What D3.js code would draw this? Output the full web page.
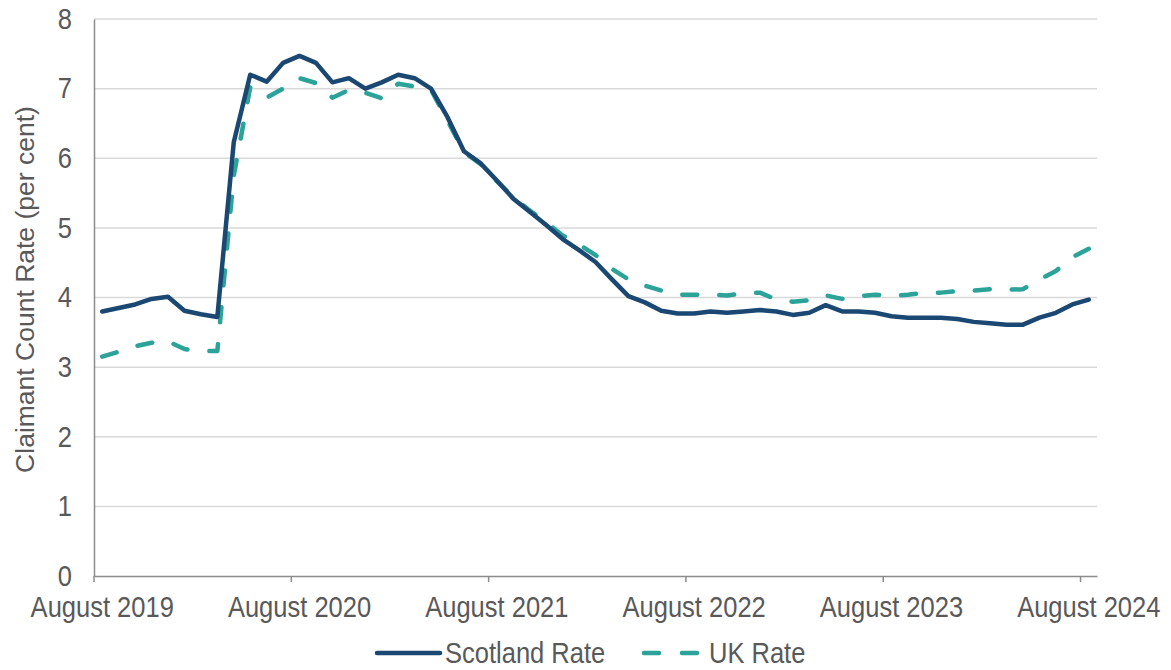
<html>
<head>
<style>
body { margin: 0; background: #fff; }
text { font-family: "Liberation Sans", Arial, sans-serif; fill: #595959; }
.grid line { stroke: #d9d9d9; stroke-width: 1.5; }
.axis path, .axis line { stroke: #8c8c8c; stroke-width: 1.5; }
</style>
</head>
<body>
<div id="vis"></div>
<script src="https://cdn.jsdelivr.net/npm/d3@7"></script>
<script>
// monthly categories, Aug 2019 - Aug 2024
var months = ["2019-08","2019-09","2019-10","2019-11","2019-12",
	"2020-01","2020-02","2020-03","2020-04","2020-05","2020-06","2020-07","2020-08","2020-09","2020-10","2020-11","2020-12",
	"2021-01","2021-02","2021-03","2021-04","2021-05","2021-06","2021-07","2021-08","2021-09","2021-10","2021-11","2021-12",
	"2022-01","2022-02","2022-03","2022-04","2022-05","2022-06","2022-07","2022-08","2022-09","2022-10","2022-11","2022-12",
	"2023-01","2023-02","2023-03","2023-04","2023-05","2023-06","2023-07","2023-08","2023-09","2023-10","2023-11","2023-12",
	"2024-01","2024-02","2024-03","2024-04","2024-05","2024-06","2024-07","2024-08"];

var scotlandRate = [3.80,3.85,3.90,3.98,4.01,
	3.81,3.76,3.72,6.23,7.20,7.10,7.37,7.47,7.37,7.09,7.15,7.00,
	7.09,7.20,7.15,7.00,6.59,6.10,5.93,5.68,5.42,5.23,5.04,4.84,
	4.68,4.51,4.26,4.02,3.93,3.81,3.77,3.77,3.80,3.78,3.80,3.82,
	3.80,3.75,3.78,3.89,3.80,3.80,3.78,3.73,3.71,3.71,3.71,3.69,
	3.65,3.63,3.61,3.61,3.71,3.78,3.90,3.97];

var ukRate = [3.15,3.22,3.30,3.35,3.37,
	3.26,3.23,3.23,5.75,7.02,6.87,7.00,7.15,7.08,6.87,6.98,6.94,
	6.86,7.07,7.03,6.98,6.54,6.09,5.92,5.67,5.44,5.25,5.08,4.89,
	4.76,4.61,4.41,4.26,4.17,4.10,4.04,4.04,4.04,4.03,4.06,4.07,
	3.97,3.94,3.96,4.03,3.98,4.02,4.04,4.02,4.04,4.07,4.07,4.09,
	4.10,4.12,4.11,4.12,4.26,4.38,4.58,4.70];

var tickMonths = ["2019-08","2020-08","2021-08","2022-08","2023-08","2024-08"];
var tickLabels = ["August 2019","August 2020","August 2021","August 2022","August 2023","August 2024"];

var scotColour = "#1a4872", ukColour = "#2ba399";

var margin = {top: 19, right: 74, bottom: 94, left: 94},
	width = 1171 - margin.left - margin.right,
	height = 670 - margin.top - margin.bottom;

var x = d3.scaleBand().domain(months).range([0, width]).padding(0);
var y = d3.scaleLinear().domain([0, 8]).range([height, 0]);
var bw = x.bandwidth();

var svg = d3.select("#vis").append("svg")
		.attr("width", 1171)
		.attr("height", 670)
	.append("g")
		.attr("transform", "translate(" + margin.left + "," + margin.top + ")");

// gridlines
svg.append("g").attr("class", "grid")
	.selectAll("line")
	.data(y.ticks(8).filter(function(d) { return d > 0; }))
	.enter().append("line")
		.attr("x1", 0).attr("x2", width)
		.attr("y1", function(d) { return y(d); })
		.attr("y2", function(d) { return y(d); });

// x axis: ticks on category boundaries, labels centred on the category
var xAxis = svg.append("g")
		.attr("class", "axis")
		.attr("transform", "translate(0," + height + ")")
		.call(d3.axisBottom(x).tickValues(tickMonths).tickSize(6).tickSizeOuter(0)
			.tickFormat(function(d) { return tickLabels[tickMonths.indexOf(d)]; }));
xAxis.selectAll(".tick line").attr("x1", -bw / 2).attr("x2", -bw / 2);
xAxis.selectAll(".tick text")
	.attr("y", 20)
	.attr("fill", null)
	.style("font-size", "29px")
	.attr("transform", "scale(0.88,1)");

// y axis
var yAxis = svg.append("g")
		.attr("class", "axis")
		.call(d3.axisLeft(y).ticks(8).tickSize(0).tickSizeOuter(0));
yAxis.selectAll(".tick text")
	.attr("x", 0)
	.attr("fill", null)
	.style("font-size", "29px")
	.attr("transform", "translate(-22,0) scale(0.88,1)");

// y axis title
svg.append("text")
	.attr("transform", "translate(" + (25 - margin.left) + "," + (height / 2 - 8) + ") rotate(-90)")
	.attr("text-anchor", "middle")
	.attr("dy", "0.35em")
	.style("font-size", "26.5px")
	.text("Claimant Count Rate (per cent)");

var line = function(vals) {
	return d3.line()
		.x(function(d, i) { return x(months[i]) + bw / 2; })
		.y(function(d) { return y(d); })(vals);
};

svg.append("path")
	.attr("d", line(ukRate))
	.attr("fill", "none")
	.attr("stroke", ukColour)
	.attr("stroke-width", 4.5)
	.attr("stroke-dasharray", "15 22")
	.attr("stroke-linecap", "round")
	.attr("stroke-linejoin", "round");

svg.append("path")
	.attr("d", line(scotlandRate))
	.attr("fill", "none")
	.attr("stroke", scotColour)
	.attr("stroke-width", 4.5)
	.attr("stroke-linecap", "round")
	.attr("stroke-linejoin", "round");

// legend
var legend = d3.select("svg").append("g").attr("transform", "translate(0,653)");
legend.append("line")
	.attr("x1", 377).attr("x2", 440).attr("y1", 0).attr("y2", 0)
	.attr("stroke", scotColour).attr("stroke-width", 4.5).attr("stroke-linecap", "round");
legend.append("text")
	.attr("transform", "translate(445,0) scale(0.88,1)")
	.attr("dy", "0.36em")
	.style("font-size", "29px")
	.text("Scotland Rate");
legend.append("line")
	.attr("x1", 644).attr("x2", 698).attr("y1", 0).attr("y2", 0)
	.attr("stroke", ukColour).attr("stroke-width", 4.5)
	.attr("stroke-dasharray", "15 23").attr("stroke-linecap", "round");
legend.append("text")
	.attr("transform", "translate(709,0) scale(0.88,1)")
	.attr("dy", "0.36em")
	.style("font-size", "29px")
	.text("UK Rate");
</script>
</body>
</html>
